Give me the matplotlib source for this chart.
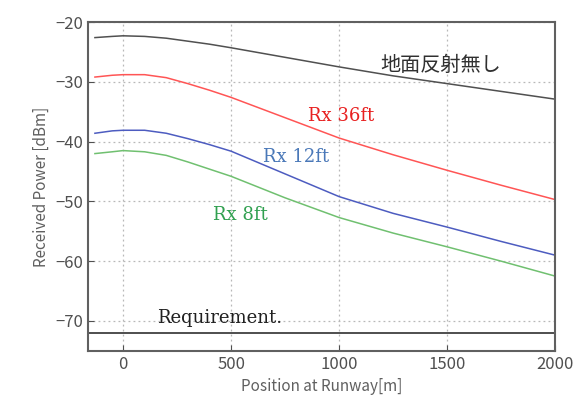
import matplotlib
matplotlib.use('Agg')
import matplotlib.pyplot as plt

# positions along the runway [m]
pos = [-130, -50, 0, 100, 200, 300, 400, 500, 750, 1000, 1250, 1500, 1750, 2000]
no_refl = [-22.6, -22.4, -22.3, -22.4, -22.7, -23.2, -23.7, -24.3, -25.9, -27.5, -29.0, -30.3, -31.6, -32.9]
rx36 = [-29.2, -28.9, -28.8, -28.8, -29.3, -30.3, -31.4, -32.6, -36.0, -39.4, -42.2, -44.8, -47.3, -49.7]
rx12 = [-38.6, -38.2, -38.1, -38.1, -38.6, -39.5, -40.5, -41.6, -45.4, -49.2, -52.0, -54.3, -56.7, -59.0]
rx8 = [-42.0, -41.7, -41.5, -41.7, -42.3, -43.4, -44.6, -45.8, -49.4, -52.7, -55.3, -57.6, -60.0, -62.5]
requirement = -72

plt.rcParams['font.family'] = ['Noto Sans CJK JP', 'DejaVu Sans']

fig = plt.figure(figsize=(5.79, 4.01), dpi=100)
ax = fig.add_axes([0.152, 0.125, 0.807, 0.820])

ax.plot(pos, no_refl, color='#505050', lw=1.1)
ax.plot(pos, rx36, color='#ff5555', lw=1.1)
ax.plot(pos, rx12, color='#4d5cc0', lw=1.1)
ax.plot(pos, rx8, color='#70c070', lw=1.1)
ax.axhline(requirement, color='#404040', lw=1.3)

serif = ['DejaVu Serif']
ax.text(1190, -27.3, '地面反射無し', fontsize=14.5, color='#303030', va='center', family=['Noto Sans CJK JP'])
ax.text(856, -35.7, 'Rx 36ft', fontsize=13, color='#e82020', va='center', family=serif)
ax.text(648, -42.5, 'Rx 12ft', fontsize=13, color='#4a78b8', va='center', family=serif)
ax.text(417, -52.2, 'Rx 8ft', fontsize=13, color='#30a050', va='center', family=serif)
ax.text(157, -69.5, 'Requirement.', fontsize=13, color='#202020', va='center', family=serif)

ax.set_xlim(-162, 2000)
ax.set_ylim(-75, -20)
ax.set_xticks([0, 500, 1000, 1500, 2000])
ax.set_yticks([-70, -60, -50, -40, -30, -20])
ax.set_yticklabels(['\u221270', '\u221260', '\u221250', '\u221240', '\u221230', '\u221220'])
ax.grid(True, color='#b8b8b8', ls=(0, (1.5, 2.5)), lw=0.9)
ax.tick_params(direction='in', labelsize=12, colors='#505050', length=4)
for s in ax.spines.values():
    s.set_color('#606060')
    s.set_linewidth(1.5)

ax.set_xlabel('Position at Runway[m]', fontsize=11, color='#606060')
ax.set_ylabel('Received Power [dBm]', fontsize=11, color='#606060')

fig.savefig('out.png', dpi=100)
